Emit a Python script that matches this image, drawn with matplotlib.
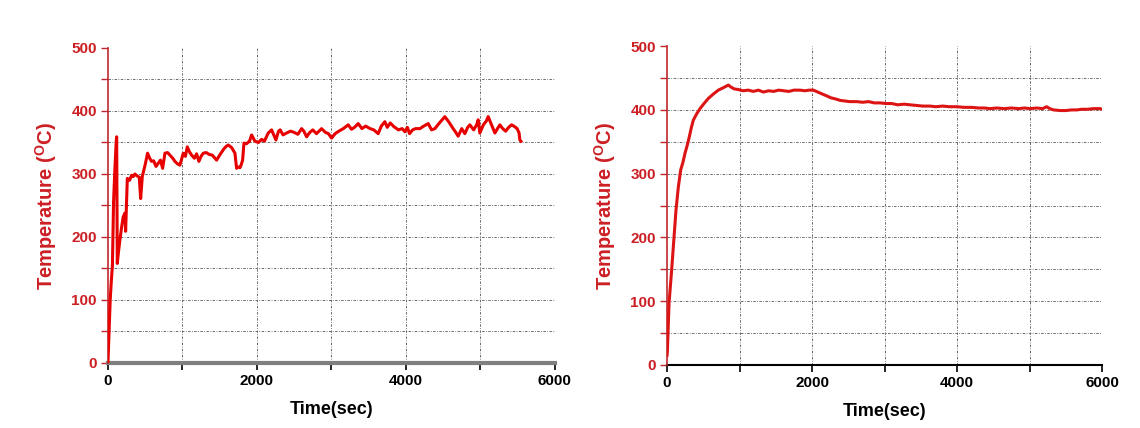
import matplotlib
matplotlib.use("Agg")
import matplotlib.pyplot as plt
from matplotlib.ticker import MultipleLocator, FixedLocator

plt.rcParams['font.family'] = ['Liberation Sans', 'DejaVu Sans']
plt.rcParams['mathtext.fontset'] = 'custom'
plt.rcParams['mathtext.rm'] = 'Liberation Sans'
plt.rcParams['mathtext.bf'] = 'Liberation Sans:bold'

# Left panel data (time in sec, temperature in degC)
t_left = [0, 15, 30, 45, 60, 75, 90, 110, 117, 125,
          140, 160, 184, 205, 228, 237, 260, 290, 318, 340,
          362, 390, 420, 439, 461, 500, 532, 560, 586, 613,
          645, 675, 705, 734, 765, 800, 832, 870, 899, 935,
          966, 1011, 1040, 1065, 1095, 1123, 1160, 1190, 1221, 1250,
          1280, 1320, 1360, 1400, 1459, 1500, 1557, 1590, 1615, 1660,
          1705, 1727, 1750, 1772, 1790, 1808, 1826, 1860, 1900, 1929,
          1973, 2020, 2063, 2100, 2152, 2197, 2255, 2290, 2313, 2350,
          2398, 2450, 2500, 2550, 2600, 2630, 2667, 2710, 2750, 2800,
          2868, 2920, 2960, 3002, 3050, 3100, 3160, 3226, 3270, 3310,
          3360, 3410, 3460, 3520, 3570, 3628, 3670, 3718, 3750, 3790,
          3840, 3900, 3950, 3987, 4020, 4049, 4090, 4130, 4188, 4240,
          4300, 4345, 4390, 4429, 4480, 4523, 4580, 4635, 4670, 4702,
          4750, 4792, 4830, 4859, 4910, 4950, 4971, 4993, 5040, 5080,
          5105, 5150, 5195, 5230, 5262, 5300, 5340, 5380, 5418, 5450,
          5494, 5520, 5530, 5545]
temp_left = [0, 50, 100, 130, 155, 255, 300, 350, 359, 158,
             175, 195, 216, 232, 238, 209, 293, 290, 298, 296,
             300, 297, 295, 261, 296, 315, 333, 325, 320, 321,
             312, 317, 322, 309, 333, 334, 330, 325, 320, 316,
             314, 333, 328, 343, 335, 330, 325, 332, 320, 328,
             333, 334, 331, 330, 322, 330, 340, 344, 346, 342,
             333, 309, 311, 310, 315, 322, 349, 348, 352, 362,
             352, 350, 355, 352, 365, 370, 354, 368, 370, 362,
             365, 368, 366, 363, 372, 368, 359, 366, 370, 364,
             372, 366, 364, 357, 364, 368, 372, 378, 371, 374,
             380, 372, 376, 372, 370, 364, 376, 383, 374, 381,
             375, 370, 372, 367, 374, 364, 370, 372, 372, 376,
             380, 370, 372, 378, 385, 391, 382, 372, 366, 360,
             372, 364, 374, 378, 370, 378, 386, 365, 378, 384,
             391, 378, 365, 372, 378, 372, 368, 374, 378, 376,
             372, 365, 354, 352]

# Right panel data
t_right = [0, 5, 28, 64, 97, 124, 156, 189, 220, 248,
           280, 308, 335, 363, 410, 455, 510, 570, 640, 708,
           780, 846, 880, 924, 980, 1050, 1120, 1191, 1260, 1330,
           1400, 1470, 1540, 1610, 1680, 1750, 1834, 1900, 1960, 2018,
           2080, 2140, 2202, 2260, 2330, 2386, 2450, 2520, 2616, 2700,
           2780, 2860, 2938, 3020, 3100, 3180, 3270, 3352, 3440, 3530,
           3628, 3710, 3800, 3900, 3996, 4100, 4200, 4300, 4380, 4455,
           4550, 4650, 4750, 4850, 4930, 5007, 5100, 5180, 5237, 5280,
           5330, 5421, 5500, 5580, 5651, 5720, 5800, 5880, 5972, 6000]
temp_right = [15, 21, 97, 149, 201, 243, 279, 306, 318, 332,
              345, 358, 372, 384, 394, 402, 410, 418, 425, 431,
              435, 439, 436, 433, 432, 430, 431, 429, 431, 428,
              430, 429, 431, 430, 429, 431, 431, 430, 431, 431,
              428, 425, 422, 419, 417, 415, 414, 413, 413, 412,
              413, 411, 411, 410, 410, 408, 409, 408, 407, 406,
              406, 405, 406, 405, 405, 404, 404, 403, 403, 402,
              403, 402, 403, 402, 403, 402, 403, 402, 405, 402,
              400, 399, 399, 400, 400, 401, 401, 402, 402, 401]

RED_TXT = '#cc1f24'
LINE_L = '#e60000'
LINE_R = '#dc1414'

fig = plt.figure(figsize=(11.4, 4.28), dpi=100)
ax1 = fig.add_axes([0.0947, 0.1519, 0.392, 0.736])
ax2 = fig.add_axes([0.5851, 0.1472, 0.3816, 0.745])

grid_ls = (0, (2.5, 1.5, 0.8, 1.5))

for ax, t, T, lc, bottom_color, bottom_lw in [
        (ax1, t_left, temp_left, LINE_L, '#7f7f7f', 3.0),
        (ax2, t_right, temp_right, LINE_R, '#000000', 1.5)]:
    ax.set_xlim(0, 6000)
    ax.set_ylim(0, 500)
    for gx in [1000, 2000, 3000, 4000, 5000]:
        ax.axvline(gx, color='#6a6a6a', lw=0.7, ls=grid_ls, zorder=1)
    for gy in [50, 100, 150, 200, 250, 300, 350, 400, 450]:
        ax.axhline(gy, color='#6a6a6a', lw=0.7, ls=grid_ls, zorder=1)
    ax.plot(t, T, color=lc, lw=2.2, zorder=3, solid_joinstyle='round')
    for s in ['top', 'right']:
        ax.spines[s].set_visible(False)
    ax.spines['left'].set_color('#c0272d')
    ax.spines['left'].set_linewidth(1.2)
    ax.spines['bottom'].set_color(bottom_color)
    ax.spines['bottom'].set_linewidth(bottom_lw)
    ax.spines['bottom'].set_zorder(2)
    ax.xaxis.set_major_locator(FixedLocator([0, 2000, 4000, 6000]))
    ax.xaxis.set_minor_locator(FixedLocator([1000, 3000, 5000]))
    ax.yaxis.set_major_locator(MultipleLocator(100))
    ax.yaxis.set_minor_locator(MultipleLocator(50))
    ax.tick_params(axis='x', which='both', direction='out', length=5, width=1.2,
                   colors='black', labelsize=11, pad=3)
    ax.tick_params(axis='y', which='both', direction='out', length=5, width=1.0,
                   colors='#c0272d', labelcolor=RED_TXT, labelsize=11, pad=3)
    for lab in ax.get_xticklabels():
        lab.set_fontweight('bold')
    for lab in ax.get_yticklabels():
        lab.set_fontweight('bold')
    ax.set_xlabel('Time(sec)', fontsize=13, fontweight='bold', labelpad=9)
    ax.set_ylabel(r'Temperature ($\mathbf{^{O}}$C)', fontsize=14.5, fontweight='bold',
                  color=RED_TXT, labelpad=9)

fig.savefig('out.png', dpi=100)
